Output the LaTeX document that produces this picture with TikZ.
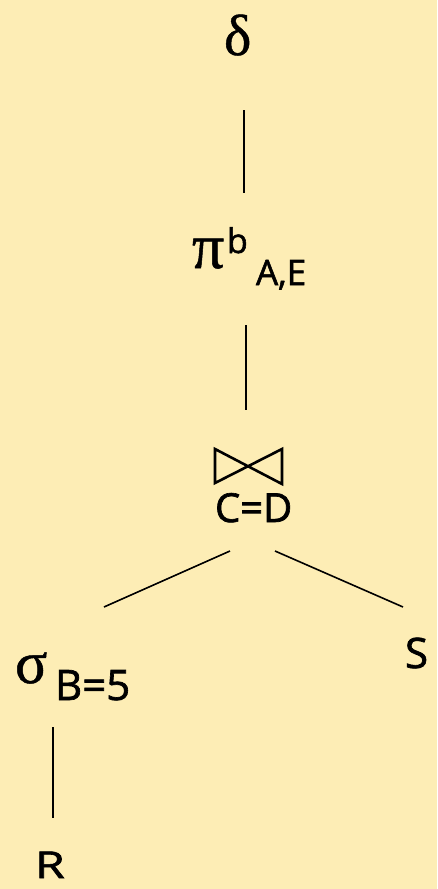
\documentclass[tikz,border=0pt]{standalone}
\usepackage{fontspec}
\setmainfont{Open Sans}[FakeBold=1.6]
\newfontfamily\greekfont{Liberation Serif}[FakeBold=0.8]
\definecolor{bg}{HTML}{FDEDB5}
\tikzset{
  lbl/.style={anchor=base west, inner sep=0pt, outer sep=0pt},
  edge/.style={line width=1.6pt, black},
}
\begin{document}
\begin{tikzpicture}[x=1pt,y=-1pt]
\fill[bg] (0,0) rectangle (437,889);
\useasboundingbox (0,0) rectangle (437,889);
% labels
\node[lbl] (delta) at (224,55) {\greekfont\fontsize{58}{60}\selectfont δ};
\node[lbl] (pi) at (192,268) {\greekfont\fontsize{64}{66}\selectfont π};
\node[lbl] (pisup) at (227,253) {\fontsize{34}{36}\selectfont b};
\node[lbl] (pisub) at (256,285) {\fontsize{35}{36}\selectfont A,E};
\node[lbl] (cond) at (215,522) {\fontsize{40}{42}\selectfont C=D};
\node[lbl] (sigma) at (15,683) {\greekfont\fontsize{60}{62}\selectfont σ};
\node[lbl] (sigsub) at (55,700) {\fontsize{42}{44}\selectfont B=5};
\node[lbl] (S) at (405,668) {\fontsize{42}{44}\selectfont S};
\node[lbl,xscale=1.3] (R) at (35,878) {\fontsize{37}{38}\selectfont R};
% join symbol
\coordinate (jlt) at (215,449);
\coordinate (jlb) at (215,483);
\coordinate (jrt) at (282,449);
\coordinate (jrb) at (282,484);
\draw[line width=2.6pt, line join=miter] (jlt) -- (jlb) -- (jrt) -- (jrb) -- cycle;
% connector end points
\coordinate (a1) at (244,110);
\coordinate (a2) at (244,193);
\coordinate (b1) at (246,325);
\coordinate (b2) at (246,410);
\coordinate (c1) at (230,551);
\coordinate (c2) at (104,607);
\coordinate (d1) at (275,551);
\coordinate (d2) at (403,607);
\coordinate (e1) at (53,727);
\coordinate (e2) at (53,818);
\draw[edge] (a1) -- (a2);
\draw[edge] (b1) -- (b2);
\draw[edge] (c1) -- (c2);
\draw[edge] (d1) -- (d2);
\draw[edge] (e1) -- (e2);
\end{tikzpicture}
\end{document}
